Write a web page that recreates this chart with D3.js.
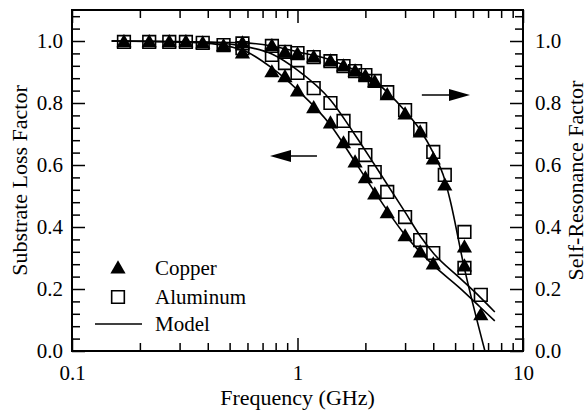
<!DOCTYPE html>
<html>
<head>
<meta charset="utf-8">
<script src="https://cdn.jsdelivr.net/npm/d3@7"></script>
<style>
  body { margin: 0; background: #fff; }
</style>
</head>
<body>
<svg id="chart" width="584" height="411"></svg>
<script>
// measured points (GHz, factor)
const subFreq = [0.17, 0.22, 0.27, 0.32, 0.38, 0.47, 0.57, 0.77, 0.88, 1.0, 1.18, 1.4, 1.6, 1.8, 2.0, 2.2, 2.5, 3.0, 3.5, 4.0, 6.5];
const copperSub = [0.994, 0.994, 0.994, 0.994, 0.99, 0.981, 0.958, 0.897, 0.881, 0.835, 0.781, 0.732, 0.668, 0.606, 0.555, 0.503, 0.442, 0.368, 0.316, 0.277, 0.113];
const aluminumSub = [0.997, 0.997, 0.997, 0.997, 0.994, 0.987, 0.977, 0.955, 0.929, 0.897, 0.848, 0.8, 0.742, 0.687, 0.632, 0.577, 0.513, 0.432, 0.358, 0.316, 0.181];

const srFreq = [0.57, 0.77, 0.88, 1.0, 1.18, 1.4, 1.6, 1.8, 2.0, 2.2, 2.5, 3.0, 3.5, 4.0, 4.5, 5.5, 5.5];
const copperSR = [0.99, 0.981, 0.961, 0.955, 0.945, 0.932, 0.916, 0.9, 0.884, 0.865, 0.823, 0.761, 0.703, 0.616, 0.532, 0.332, 0.271];
const aluminumSR = [0.992, 0.984, 0.965, 0.961, 0.948, 0.935, 0.919, 0.903, 0.89, 0.871, 0.835, 0.777, 0.716, 0.642, 0.568, 0.384, 0.268];

// model curves
const subModelFreq = [0.15, 0.37, 0.57, 0.77, 1.0, 1.4, 1.8, 2.2, 3.0, 3.5, 4.0, 5.25, 6.45, 7.5];
const aluminumSubModel = [1.0, 0.997, 0.984, 0.958, 0.906, 0.81, 0.697, 0.6, 0.448, 0.371, 0.316, 0.235, 0.174, 0.126];
const copperSubModel = [1.0, 0.994, 0.971, 0.913, 0.842, 0.729, 0.61, 0.513, 0.374, 0.319, 0.277, 0.203, 0.142, 0.097];
const srModelFreq = [0.15, 0.57, 0.77, 1.0, 1.4, 1.8, 2.2, 2.5, 3.0, 3.5, 4.0, 4.5, 4.75, 5.47, 6.78];
const srModel = [1.0, 0.994, 0.984, 0.965, 0.939, 0.906, 0.871, 0.835, 0.774, 0.713, 0.639, 0.552, 0.487, 0.274, 0.0];

const xMajor = [0.1, 1, 10];
const xMinor = [0.2, 0.3, 0.4, 0.5, 0.6, 0.7, 0.8, 0.9, 2, 3, 4, 5, 6, 7, 8, 9];
const yMajor = [0, 0.2, 0.4, 0.6, 0.8, 1.0];
const yMinor = [0.04, 0.08, 0.12, 0.16, 0.24, 0.28, 0.32, 0.36, 0.44, 0.48, 0.52, 0.56, 0.64, 0.68, 0.72, 0.76, 0.84, 0.88, 0.92, 0.96, 1.04, 1.08];

const serif = "'Liberation Serif', 'Times New Roman', Times, 'DejaVu Serif', serif";
const margin = { top: 10, right: 61, bottom: 60, left: 72 };
const width = 584, height = 411;
const svg = d3.select("#chart");

const x = d3.scaleLog().domain([0.1, 10]).range([margin.left, width - margin.right]);
const y = d3.scaleLinear().domain([0, 1.1]).range([height - margin.bottom, margin.top]);

const zip = (fs, vs) => fs.map((f, i) => ({ f: f, v: vs[i] }));

// axes: ticks point into the frame
function addAxis(axis, transform, size, labels, pad) {
  const g = svg.append("g").attr("transform", transform)
    .call(axis.tickSize(-size).tickPadding(pad));
  g.attr("font-family", null).attr("font-size", null);
  g.select(".domain").remove();
  g.selectAll(".tick line").attr("stroke", "#000").attr("stroke-width", 1.5);
  g.selectAll("text").style("font-family", serif).style("font-size", "21px").attr("fill", "#000");
  if (!labels) g.selectAll("text").remove();
  return g;
}
const fmt = d3.format(".1f");
const bottomY = y(0), topY = y(1.1), leftX = x(0.1), rightX = x(10);

addAxis(d3.axisBottom(x).tickValues(xMajor).tickFormat(d => d < 1 ? "0.1" : String(d)), `translate(0,${bottomY})`, 13, true, 14);
addAxis(d3.axisBottom(x).tickValues(xMinor), `translate(0,${bottomY})`, 8, false, 0);
addAxis(d3.axisTop(x).tickValues(xMajor), `translate(0,${topY})`, 13, false, 0);
addAxis(d3.axisTop(x).tickValues(xMinor), `translate(0,${topY})`, 8, false, 0);
addAxis(d3.axisLeft(y).tickValues(yMajor).tickFormat(fmt), `translate(${leftX},0)`, 13, true, 9);
addAxis(d3.axisLeft(y).tickValues(yMinor), `translate(${leftX},0)`, 8, false, 0);
addAxis(d3.axisRight(y).tickValues(yMajor).tickFormat(fmt), `translate(${rightX},0)`, 13, true, 12);
addAxis(d3.axisRight(y).tickValues(yMinor), `translate(${rightX},0)`, 8, false, 0);

svg.append("rect")
  .attr("x", leftX).attr("y", topY)
  .attr("width", rightX - leftX).attr("height", bottomY - topY)
  .attr("fill", "none").attr("stroke", "#000").attr("stroke-width", 2);

// axis titles
function title(text, transform) {
  return svg.append("text")
    .attr("transform", transform)
    .attr("text-anchor", "middle")
    .style("font-family", serif).style("font-size", "22px")
    .text(text);
}
const midY = (topY + bottomY) / 2;
title("Frequency (GHz)", `translate(${(leftX + rightX) / 2},405)`);
title("Substrate Loss Factor", `translate(27,${midY}) rotate(-90)`);
title("Self-Resonance Factor", `translate(583,${midY}) rotate(-90)`);

// model lines
const line = d3.line().x(d => x(d.f)).y(d => y(d.v)).curve(d3.curveMonotoneX);
[zip(subModelFreq, aluminumSubModel), zip(subModelFreq, copperSubModel), zip(srModelFreq, srModel)]
  .forEach(pts => {
    svg.append("path").datum(pts)
      .attr("d", line)
      .attr("fill", "none").attr("stroke", "#000").attr("stroke-width", 1.6);
  });

// markers
const square = d3.symbol(d3.symbolSquare, 160);
const triangle = d3.symbol(d3.symbolTriangle, 100);

svg.append("g").selectAll("path")
  .data(zip(subFreq, aluminumSub).concat(zip(srFreq, aluminumSR)))
  .enter().append("path")
  .attr("d", square)
  .attr("transform", d => `translate(${x(d.f)},${y(d.v)})`)
  .attr("fill", "none").attr("stroke", "#000").attr("stroke-width", 1.6);

svg.append("g").selectAll("path")
  .data(zip(subFreq, copperSub).concat(zip(srFreq, copperSR)))
  .enter().append("path")
  .attr("d", triangle)
  .attr("transform", d => `translate(${x(d.f)},${y(d.v)})`)
  .attr("fill", "#000");

// direction arrows
function arrow(f0, f1, v) {
  const x0 = x(f0), x1 = x(f1), yy = y(v);
  const dir = Math.sign(x1 - x0);
  svg.append("line")
    .attr("x1", x0).attr("x2", x1 - dir * 12).attr("y1", yy).attr("y2", yy)
    .attr("stroke", "#000").attr("stroke-width", 1.5);
  svg.append("path")
    .attr("d", `M${x1},${yy} L${x1 - dir * 21},${yy - 6} L${x1 - dir * 21},${yy + 6} Z`)
    .attr("fill", "#000");
}
arrow(1.22, 0.755, 0.629);
arrow(3.56, 5.82, 0.826);

// legend
const legend = svg.append("g");
legend.append("path").attr("d", triangle).attr("transform", "translate(118,269)").attr("fill", "#000");
legend.append("path").attr("d", square).attr("transform", "translate(118,297)")
  .attr("fill", "none").attr("stroke", "#000").attr("stroke-width", 1.6);
legend.append("line").attr("x1", 95).attr("x2", 142).attr("y1", 324).attr("y2", 324)
  .attr("stroke", "#000").attr("stroke-width", 1.6);
["Copper", "Aluminum", "Model"].forEach((t, i) => {
  legend.append("text")
    .attr("x", 155).attr("y", [268, 297, 324][i]).attr("dy", "0.35em")
    .style("font-family", serif).style("font-size", "21px").text(t);
});
</script>
</body>
</html>
